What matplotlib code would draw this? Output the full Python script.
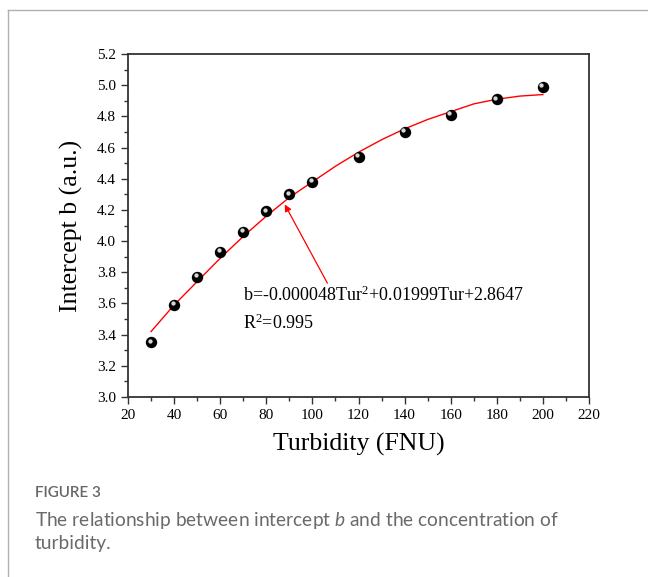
import numpy as np
import matplotlib
matplotlib.use("Agg")
import matplotlib.pyplot as plt
from matplotlib.ticker import MultipleLocator, FormatStrFormatter
from matplotlib.transforms import ScaledTranslation

# measured points
TUR = [30, 40, 50, 60, 70, 80, 90, 100, 120, 140, 160, 180, 200]
B = [3.35, 3.59, 3.77, 3.93, 4.06, 4.19, 4.30, 4.38, 4.54, 4.70, 4.81, 4.91, 4.99]

# fitted curve
FIT_TUR = [30, 40, 50, 60, 70, 80, 90, 100, 110, 120, 130, 140, 150, 160, 170, 180, 190, 200]
FIT_B = [3.42, 3.59, 3.74, 3.89, 4.03, 4.16, 4.28, 4.38, 4.48, 4.57, 4.65, 4.72, 4.78, 4.83, 4.88, 4.91, 4.93, 4.94]

serif = "Liberation Serif"
plt.rcParams["mathtext.fontset"] = "custom"
plt.rcParams["mathtext.rm"] = serif
plt.rcParams["mathtext.it"] = "Lato:italic"

fig = plt.figure(figsize=(6.48, 5.77), dpi=100)

# page frame (top and left rules)
fig.add_artist(plt.Line2D([0.012, 1.0], [0.983, 0.983], color="#b0b0b0", lw=1))
fig.add_artist(plt.Line2D([0.012, 0.012], [0.0, 0.983], color="#b0b0b0", lw=1))

ax = fig.add_axes([128/648, 1 - 397/577, (589 - 128)/648, (397 - 54)/577])

ax.plot(FIT_TUR, FIT_B, color="red", lw=1)
ax.plot(TUR, B, "o", color="black", markersize=7.2, zorder=3)
hl = ax.transData + ScaledTranslation(-1.1/72, 1.1/72, fig.dpi_scale_trans)
ax.plot(TUR, B, "o", color="#d8d8d8", markersize=2.1, transform=hl, zorder=4)

ax.annotate("", xy=(88, 4.235), xytext=(106.5, 3.73),
            arrowprops=dict(arrowstyle="-|>", color="red", lw=0.9,
                            mutation_scale=10, shrinkA=0, shrinkB=0))
ax.text(70, 3.65, "b=-0.000048Tur$^{\\mathrm{2}}$+0.01999Tur+2.8647", fontsize=13,
        family=serif, va="center", ha="left")
ax.text(70, 3.475, "R$^{\\mathrm{2}}$=0.995", fontsize=13, family=serif, va="center", ha="left")

ax.set_xlim(20, 220)
ax.set_ylim(3.0, 5.2)
ax.xaxis.set_major_locator(MultipleLocator(20))
ax.xaxis.set_minor_locator(MultipleLocator(10))
ax.yaxis.set_major_locator(MultipleLocator(0.2))
ax.yaxis.set_minor_locator(MultipleLocator(0.1))
ax.yaxis.set_major_formatter(FormatStrFormatter("%.1f"))
ax.tick_params(which="both", direction="out", top=False, right=False, color="#333333")
ax.tick_params(which="major", length=5, width=1, labelsize=11)
ax.tick_params(which="minor", length=3, width=1)
for lab in ax.get_xticklabels() + ax.get_yticklabels():
    lab.set_family(serif)
for sp in ax.spines.values():
    sp.set_linewidth(1.3)
    sp.set_color("#333333")

ax.set_xlabel("Turbidity (FNU)", fontsize=18.5, family=serif, labelpad=8)
ax.set_ylabel("Intercept b (a.u.)", fontsize=18.5, family=serif, labelpad=10)

fig.text(35/648, 1 - 493/577, "FIGURE 3", fontsize=11, family="Lato",
         color="#666666", va="center", ha="left", fontweight="semibold")
fig.text(35/648, 1 - 531/577,
         "The relationship between intercept $\\it{b}$ and the concentration of\nturbidity.",
         fontsize=13.8, family="Lato", color="#6a6a6a", va="center", ha="left",
         linespacing=1.3)

fig.savefig("out.png", dpi=100)
